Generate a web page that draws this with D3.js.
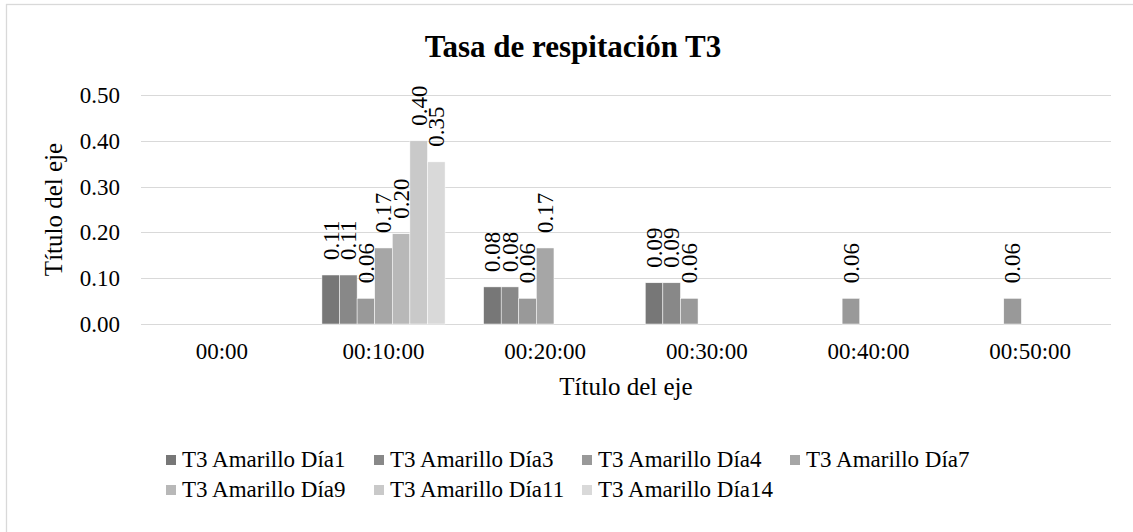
<!DOCTYPE html>
<html>
<head>
<meta charset="utf-8">
<script src="https://cdn.jsdelivr.net/npm/d3@7"></script>
<style>
    body { margin: 0; background: #fff; }
    svg { font-family: "Liberation Serif", "Times New Roman", serif; }
    .grid line { stroke: #d9d9d9; stroke-width: 1.3; shape-rendering: crispEdges; }
    .tick-label { font-size: 23px; fill: #000; }
    .bar-label { font-size: 23px; fill: #000; }
    .legend text { font-size: 23px; fill: #000; }
</style>
</head>
<body>
<svg id="svg" width="1133" height="532"></svg>
<script>

    //Categories on the x axis (time of measurement).
    var categories = ["00:00", "00:10:00", "00:20:00", "00:30:00", "00:40:00", "00:50:00"];

    //Series names and their grey fill.
    var seriesNames = ["T3 Amarillo Día1", "T3 Amarillo Día3", "T3 Amarillo Día4", "T3 Amarillo Día7",
                       "T3 Amarillo Día9", "T3 Amarillo Día11", "T3 Amarillo Día14"];
    var seriesColors = ["#777777", "#888888", "#999999", "#a6a6a6", "#b8b8b8", "#c9c9c9", "#d9d9d9"];

    //Values per series (null = no bar, no label).
    var dia1  = [null, 0.107, 0.081, 0.090, null, null];
    var dia3  = [null, 0.107, 0.081, 0.090, null, null];
    var dia4  = [null, 0.056, 0.056, 0.056, 0.056, 0.056];
    var dia7  = [null, 0.166, 0.166, null, null, null];
    var dia9  = [null, 0.197, null, null, null, null];
    var dia11 = [null, 0.400, null, null, null, null];
    var dia14 = [null, 0.354, null, null, null, null];

    var seriesValues = [dia1, dia3, dia4, dia7, dia9, dia11, dia14];

    //Y axis ticks.
    var yTicks = [0, 0.1, 0.2, 0.3, 0.4, 0.5];

    var chartTitle = "Tasa de respitación T3";
    var axisTitle = "Título del eje";

    var svg = d3.select("#svg");

    //Plot area inside the chart.
    var plot = {left: 141, right: 1111, top: 95, bottom: 324};

    //Chart area border (only left and top edges fall inside the picture).
    svg.append("rect")
        .attr("x", 6.5).attr("y", 4.5)
        .attr("width", 1140).attr("height", 540)
        .attr("fill", "none")
        .attr("stroke", "#d9d9d9")
        .attr("stroke-width", 1.3);

    var yScale = d3.scaleLinear().domain([0, 0.5]).range([plot.bottom, plot.top]);
    var xScale = d3.scaleBand().domain(categories).range([plot.left, plot.right]).padding(0);
    //Excel gap width ~219% of a bar, split on both sides of the group.
    var xInner = d3.scaleBand().domain(d3.range(seriesNames.length))
        .range([0, xScale.bandwidth()]).paddingInner(0).paddingOuter(1.095);

    //Horizontal gridlines.
    svg.append("g").attr("class", "grid")
        .selectAll("line")
        .data(yTicks)
        .enter().append("line")
        .attr("x1", plot.left).attr("x2", plot.right)
        .attr("y1", function(d) { return Math.round(yScale(d)) + 0.5; })
        .attr("y2", function(d) { return Math.round(yScale(d)) + 0.5; });

    //Y tick labels.
    var fmt = d3.format(".2f");
    svg.append("g")
        .selectAll("text")
        .data(yTicks)
        .enter().append("text")
        .attr("class", "tick-label")
        .attr("x", 120)
        .attr("y", function(d) { return yScale(d); })
        .attr("dy", "0.35em")
        .attr("text-anchor", "end")
        .text(function(d) { return fmt(d); });

    //X tick labels.
    svg.append("g")
        .selectAll("text")
        .data(categories)
        .enter().append("text")
        .attr("class", "tick-label")
        .attr("x", function(d) { return xScale(d) + xScale.bandwidth() / 2; })
        .attr("y", 359)
        .attr("text-anchor", "middle")
        .text(function(d) { return d; });

    //Flatten the series into bar records.
    var bars = [];
    seriesValues.forEach(function(vals, s) {
        vals.forEach(function(v, c) {
            if (v != null) bars.push({s: s, cat: categories[c], v: v});
        });
    });

    svg.append("g")
        .selectAll("rect")
        .data(bars)
        .enter().append("rect")
        .attr("x", function(d) { return xScale(d.cat) + xInner(d.s); })
        .attr("y", function(d) { return yScale(d.v); })
        .attr("width", xInner.bandwidth())
        .attr("height", function(d) { return yScale(0) - yScale(d.v); })
        .attr("fill", function(d) { return seriesColors[d.s]; })
        .attr("stroke", "#fff")
        .attr("stroke-width", 0.5);

    //Rotated value labels above each bar.
    svg.append("g")
        .selectAll("text")
        .data(bars)
        .enter().append("text")
        .attr("class", "bar-label")
        .attr("transform", function(d) {
            var cx = xScale(d.cat) + xInner(d.s) + xInner.bandwidth() / 2;
            return "translate(" + cx + "," + (yScale(d.v) - 15) + ") rotate(-90)";
        })
        .attr("dy", "0.34em")
        .text(function(d) { return fmt(d.v); });

    //Title.
    svg.append("text")
        .attr("x", 573).attr("y", 57)
        .attr("text-anchor", "middle")
        .style("font-size", "31px")
        .style("font-weight", "bold")
        .text(chartTitle);

    //Axis titles.
    svg.append("text")
        .attr("x", (plot.left + plot.right) / 2).attr("y", 395)
        .attr("text-anchor", "middle")
        .style("font-size", "25px")
        .text(axisTitle);

    svg.append("text")
        .attr("transform", "translate(62," + ((plot.top + plot.bottom) / 2) + ") rotate(-90)")
        .attr("text-anchor", "middle")
        .style("font-size", "25px")
        .text(axisTitle);

    //Legend: grid of 4 columns, two rows.
    var legend = svg.append("g").attr("class", "legend");
    var item = legend.selectAll("g")
        .data(seriesNames)
        .enter().append("g")
        .attr("transform", function(d, i) {
            return "translate(" + (166 + (i % 4) * 208) + "," + (460 + Math.floor(i / 4) * 30) + ")";
        });

    item.append("rect")
        .attr("x", 0).attr("y", -5)
        .attr("width", 10).attr("height", 10)
        .attr("fill", function(d, i) { return seriesColors[i]; });

    item.append("text")
        .attr("x", 16)
        .attr("dy", "0.3em")
        .text(function(d) { return d; });

</script>
</body>
</html>
